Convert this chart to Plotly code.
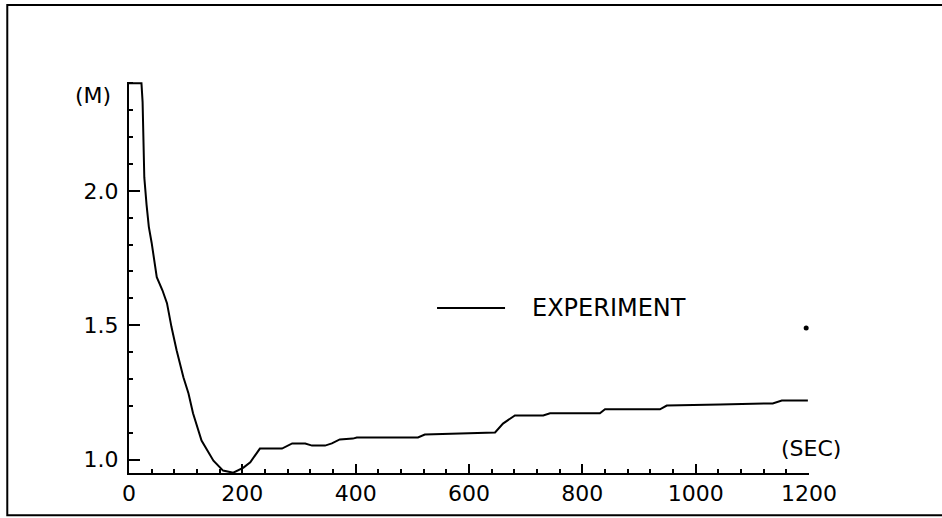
import plotly.graph_objects as go

# Data
time_sec = [0, 22, 24, 25, 27, 31, 35, 40, 46, 49, 59, 67, 75, 84, 96, 105, 113, 128,
            149, 166, 184, 202, 214, 231, 270, 288, 311, 323, 346, 358, 372, 395, 402,
            510, 522, 584, 625, 646, 660, 681, 731, 743, 831, 840, 937, 949, 1043, 1136,
            1152, 1198]
m_value = [2.40, 2.40, 2.33, 2.19, 2.05, 1.948, 1.866, 1.806, 1.716, 1.679, 1.630, 1.582,
           1.493, 1.407, 1.306, 1.246, 1.172, 1.071, 0.996, 0.959, 0.951, 0.970, 0.990,
           1.041, 1.041, 1.060, 1.060, 1.052, 1.052, 1.060, 1.075, 1.078, 1.082, 1.082,
           1.093, 1.097, 1.101, 1.101, 1.134, 1.164, 1.164, 1.172, 1.172, 1.187, 1.187,
           1.201, 1.205, 1.209, 1.220, 1.220]
stray_x = [1195]
stray_y = [1.49]

x_ticks = [0, 200, 400, 600, 800, 1000, 1200]
x_tick_labels = ["0", "200", "400", "600", "800", "1000", "1200"]
y_ticks = [1.0, 1.5, 2.0]
y_tick_labels = ["1.0", "1.5", "2.0"]

FONT = "DejaVu Sans"

fig = go.Figure()
fig.add_trace(go.Scatter(x=time_sec, y=m_value, mode="lines",
                         line=dict(color="black", width=2), showlegend=False,
                         name="EXPERIMENT"))
fig.add_trace(go.Scatter(x=stray_x, y=stray_y, mode="markers",
                         marker=dict(color="black", size=5), showlegend=False,
                         hoverinfo="skip"))

fig.update_layout(
    width=942, height=518,
    margin=dict(l=129, r=133, t=82, b=45),
    paper_bgcolor="white", plot_bgcolor="white",
    font=dict(family=FONT, color="black", size=22),
    xaxis=dict(range=[0, 1200], showgrid=False, zeroline=False,
               showline=True, linecolor="black", linewidth=2,
               tickmode="array", tickvals=x_ticks, ticktext=x_tick_labels,
               ticks="inside", ticklen=9, tickwidth=1.5, tickcolor="black",
               minor=dict(dtick=40, tick0=0, ticks="inside", ticklen=4,
                          tickwidth=1.5, tickcolor="black"),
               tickfont=dict(family=FONT, size=22)),
    yaxis=dict(range=[0.95, 2.405], showgrid=False, zeroline=False,
               showline=True, linecolor="black", linewidth=2,
               tickmode="array", tickvals=y_ticks, ticktext=y_tick_labels,
               ticks="inside", ticklen=11, tickwidth=1.5, tickcolor="black",
               minor=dict(dtick=0.1, tick0=1.0, ticks="inside", ticklen=4,
                          tickwidth=1.5, tickcolor="black"),
               ticklabelstandoff=4,
               tickfont=dict(family=FONT, size=22)),
    shapes=[
        # outer frame
        dict(type="rect", xref="paper", yref="paper",
             x0=-0.179, x1=1.21, y0=-0.108, y1=1.197,
             line=dict(color="black", width=2), fillcolor="rgba(0,0,0,0)"),
        # legend line
        dict(type="line", xref="paper", yref="paper",
             x0=0.453, x1=0.553, y0=0.422, y1=0.422,
             line=dict(color="black", width=2)),
    ],
    annotations=[
        dict(text="EXPERIMENT", xref="paper", yref="paper", x=0.590, y=0.422,
             xanchor="left", yanchor="middle", showarrow=False,
             font=dict(family=FONT, size=24)),
        dict(text="(M)", xref="paper", yref="paper", x=-0.024, y=0.965,
             xanchor="right", yanchor="middle", showarrow=False,
             font=dict(family=FONT, size=22)),
        dict(text="(SEC)", xref="paper", yref="paper", x=1.05, y=0.063,
             xanchor="right", yanchor="middle", showarrow=False,
             font=dict(family=FONT, size=22)),
    ],
)

fig.write_html("out.html", config={"displayModeBar": False},
               post_script="document.body.style.margin='0';document.body.style.overflow='hidden';")
